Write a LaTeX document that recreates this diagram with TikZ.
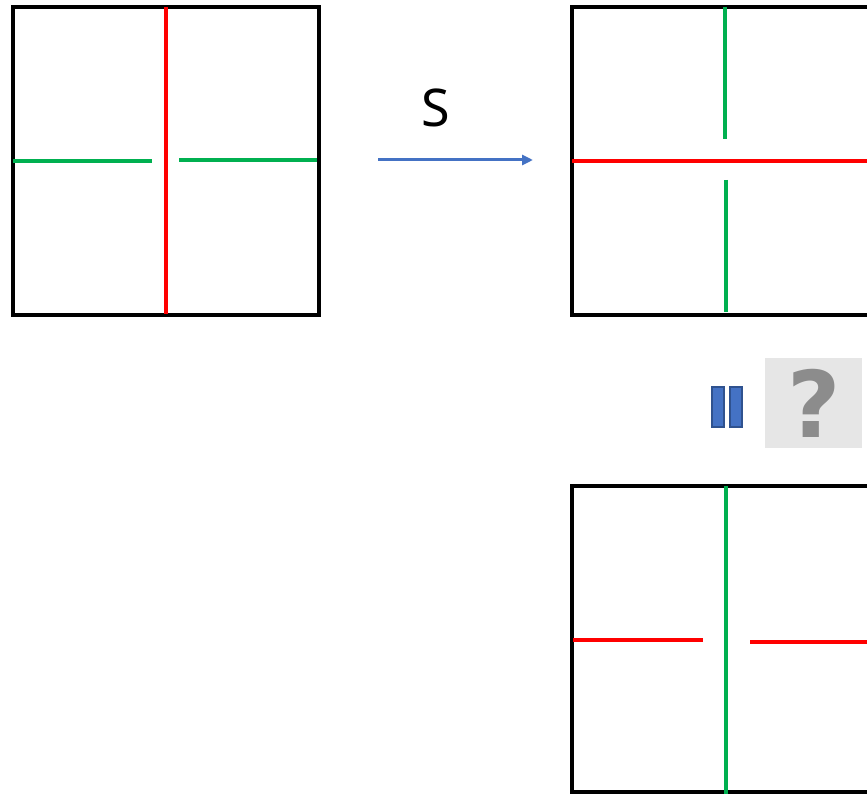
\documentclass[tikz,border=0pt]{standalone}
\usepackage{fontspec}
\setmainfont{Noto Sans}
\newfontfamily\qfont{DejaVu Sans}
\usetikzlibrary{arrows.meta, positioning}
\definecolor{barred}{HTML}{FF0000}
\definecolor{bargreen}{HTML}{00B050}
\definecolor{arrowblue}{HTML}{4472C4}
\definecolor{eqedge}{HTML}{2F528F}
\definecolor{qgray}{HTML}{8C8C8C}
\definecolor{qfill}{HTML}{E6E6E6}

\begin{document}
\begin{tikzpicture}[
        x=1pt, y=-1pt,
        frame/.style={draw=black, line width=4.2pt},
        redbar/.style={draw=barred, line width=4.2pt},
        greenbar/.style={draw=bargreen, line width=4.2pt},
        arr/.style={-{Triangle[length=11pt, width=10pt]}, line width=3pt, color=arrowblue},
        eqbar/.style={draw=eqedge, line width=1.5pt, fill=arrowblue, minimum width=12pt, minimum height=40pt, inner sep=0pt},
        qbox/.style={fill=qfill, minimum width=97pt, minimum height=90pt, inner sep=0pt}
      ]
        \useasboundingbox (0,0) rectangle (867,794);
        \clip (0,0) rectangle (867,794);

        % left panel
        \draw[frame] (13,7) rectangle (319,315);
        \draw[redbar] (166,7) -- (166,314);
        \draw[greenbar] (13,161) -- (152,161);
        \draw[greenbar] (179,160) -- (317,160);

        % transformation
        \node[font=\fontsize{52}{60}\selectfont, anchor=base] (slabel) at (435.5,127) {S};
        \coordinate (arrstart) at (378,160);
        \coordinate (arrend) at (533,160);
        \draw[arr] (arrstart) -- (arrend);

        % upper right panel
        \draw[frame] (572,7) rectangle (885,315);
        \draw[redbar] (572,161) -- (885,161);
        \draw[greenbar] (725,7) -- (725,139);
        \draw[greenbar] (726,180) -- (726,312);

        % equals and question
        \node[eqbar] (eqleft) at (718,407) {};
        \node[eqbar] (eqright) at (736,407) {};
        \node[qbox] (qpanel) at (813.5,403) {};
        \node[font=\qfont\bfseries\fontsize{92}{110}\selectfont, text=qgray, anchor=base] (qmark) at (814,437) {?};

        % lower right panel
        \draw[frame] (572,486) rectangle (885,792);
        \draw[greenbar] (726,486) -- (726,794);
        \draw[redbar] (573,640) -- (703,640);
        \draw[redbar] (750,642) -- (885,642);
      \end{tikzpicture}
\end{document}
